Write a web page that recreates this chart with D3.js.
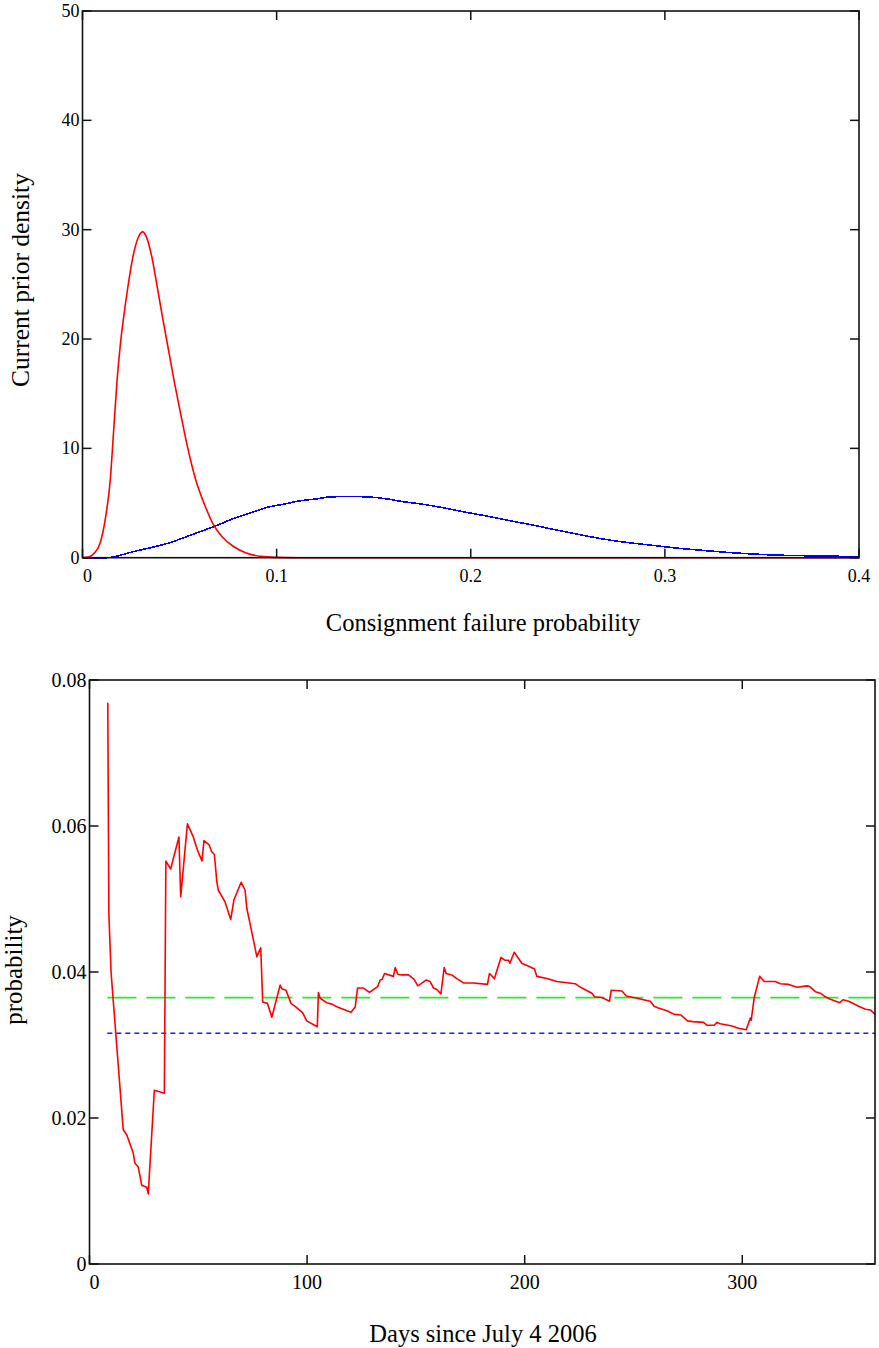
<!DOCTYPE html>
<html>
<head>
<meta charset="utf-8">
<script src="https://cdn.jsdelivr.net/npm/d3@7"></script>
<style>
  html, body { margin: 0; padding: 0; background: #fff; }
  svg { display: block; }
  text { font-family: "Liberation Serif", "Times New Roman", serif; fill: #000; }
</style>
</head>
<body>
<svg id="chart" width="879" height="1348"></svg>
<script>
// ---- Upper panel: prior densities over consignment failure probability ----
const densityX = [0, 0.1, 0.2, 0.3, 0.4];
const densityXLabels = ["0", "0.1", "0.2", "0.3", "0.4"];
const densityY = [0, 10, 20, 30, 40, 50];

// current prior (narrow, red)
const currentP = [0, 0.003, 0.006, 0.009, 0.012, 0.0143, 0.016, 0.0178, 0.0195, 0.0212, 0.023, 0.0263,
  0.029, 0.031, 0.033, 0.0355, 0.038, 0.041, 0.0444, 0.0475, 0.0504, 0.054, 0.0582, 0.063, 0.0675,
  0.072, 0.078, 0.084, 0.0918, 0.1, 0.11, 0.4];
const currentD = [0, 0.05, 0.4, 1.3, 3.8, 7.1, 11.5, 16.2, 19.5, 22.0, 24.3, 27.8,
  29.4, 29.8, 29.3, 27.7, 25.3, 22.2, 18.9, 15.9, 13.3, 10.2, 7.2, 4.8, 3.0,
  1.9, 1.0, 0.45, 0.12, 0.03, 0, 0];

// initial prior (broad, blue)
const initialP = [0, 0.0126, 0.026, 0.0436, 0.0608, 0.0685, 0.078, 0.0866, 0.0951, 0.1038, 0.1124,
  0.121, 0.127, 0.137, 0.1469, 0.1572, 0.1641, 0.1745, 0.1848, 0.1952, 0.2072, 0.2193, 0.2331,
  0.2435, 0.2538, 0.2624, 0.2728, 0.2831, 0.2952, 0.3055, 0.3193, 0.3366, 0.3573, 0.3831, 0.4];
const initialD = [0, 0, 0.55, 1.3, 2.4, 2.9, 3.6, 4.11, 4.6, 4.9, 5.21,
  5.39, 5.55, 5.6, 5.56, 5.37, 5.15, 4.91, 4.60, 4.23, 3.84, 3.41, 2.95,
  2.55, 2.19, 1.89, 1.58, 1.34, 1.10, 0.89, 0.67, 0.43, 0.24, 0.15, 0.09];

// ---- Lower panel: failure probability estimate over time ----
const dayTicks = [0, 100, 200, 300];
const probTicks = [0, 0.02, 0.04, 0.06, 0.08];
const probTickLabels = ["0", "0.02", "0.04", "0.06", "0.08"];

const days = [8.4, 8.9, 9.9, 15.5, 17.1, 20.1, 20.9, 22.4, 24, 26.3, 27, 29.8, 34.4, 35.1, 37.3,
  41.1, 41.9, 45, 47.7, 49.6, 51.7, 52.6, 55, 56.1, 57.4, 58.5, 59.2, 62.3, 64.9, 66.4, 69.7,
  71.5, 72.3, 73.8, 76.9, 78.7, 79.6, 81.8, 83.8, 87.6, 88.4, 90.3, 92.6, 94.5, 98, 99.8, 104.7,
  105.2, 106, 109, 111.4, 113.9, 117.5, 120.2, 122.1, 123.2, 125.9, 128.7, 132.4, 133.6, 134.5,
  135.6, 139.7, 140.5, 141.7, 143.5, 146.6, 149.2, 150.9, 154.7, 156.5, 158.1, 159.6, 161.5, 163,
  163.9, 166.5, 168.8, 171.9, 176.5, 182.9, 183.8, 186.1, 189.1, 191, 192.6, 193.2, 195.2, 198.7,
  201.8, 204.5, 205.6, 210.2, 213.6, 214.8, 223.2, 226.3, 230.9, 232.1, 235.5, 239, 239.8, 244.7,
  246.7, 250, 257.7, 259.5, 261.1, 265.4, 268.7, 271.8, 274.9, 277.3, 282.2, 283.8, 287.1, 288.4,
  289.9, 295.3, 298.3, 301.8, 303.7, 304.1, 305.5, 308, 310.1, 315.2, 317.5, 321.3, 325.2, 329.8,
  331, 333.6, 335.9, 338.2, 340.2, 344.8, 346.3, 348.9, 353.5, 356.6, 358.9, 361.1];
const estimate = [0.0769, 0.048, 0.040, 0.0184, 0.0177, 0.0152, 0.0138, 0.0133, 0.0108, 0.0105, 0.0096,
  0.0238, 0.0234, 0.0552, 0.0541, 0.0585, 0.0503, 0.0603, 0.0585, 0.0567, 0.0552, 0.0580, 0.0574,
  0.0565, 0.0561, 0.0524, 0.0512, 0.0496, 0.0472, 0.0499, 0.0523, 0.0512, 0.0487, 0.0466, 0.0421,
  0.0433, 0.0359, 0.0357, 0.0338, 0.0382, 0.0377, 0.0375, 0.0357, 0.0353, 0.0344, 0.0333, 0.0325,
  0.0372, 0.0364, 0.0358, 0.0356, 0.0352, 0.0348, 0.0345, 0.0352, 0.0378, 0.0378, 0.0372, 0.0380,
  0.0389, 0.0390, 0.0398, 0.0394, 0.0406, 0.0397, 0.0396, 0.0396, 0.0390, 0.0381, 0.0389, 0.0387,
  0.0378, 0.0376, 0.0370, 0.0406, 0.0398, 0.0396, 0.0391, 0.0385, 0.0385, 0.0383, 0.0398, 0.0391,
  0.0420, 0.0416, 0.0416, 0.0412, 0.0427, 0.0412, 0.0408, 0.0404, 0.0394, 0.0391, 0.0388, 0.0387,
  0.0384, 0.0378, 0.0371, 0.0366, 0.0365, 0.0360, 0.0375, 0.0374, 0.0367, 0.0365, 0.0360, 0.0353,
  0.0351, 0.0347, 0.0342, 0.0341, 0.0333, 0.0332, 0.0331, 0.0327, 0.0327, 0.0331, 0.0329, 0.0326,
  0.0323, 0.0321, 0.0337, 0.0334, 0.0365, 0.0394, 0.0387, 0.0387, 0.0384, 0.0383, 0.0379, 0.0381,
  0.0380, 0.0373, 0.0371, 0.0366, 0.0363, 0.0358, 0.0362, 0.0360, 0.0353, 0.0349, 0.0348, 0.0342];

const refLevels = [0.0365, 0.0316];   // green dashed, blue dotted
const refStartDay = 8.2;
const dayMax = 361;

const svg = d3.select("#chart");

// boxed frame with inward ticks on all four sides
function frame(g, x, y, xt, yt, xl, yl, firstDx) {
  const [x0, x1] = x.range();
  const [y0, y1] = y.range();   // y0 bottom, y1 top
  const tick = 9;
  g.append("rect").attr("x", x0).attr("y", y1).attr("width", x1 - x0).attr("height", y0 - y1)
    .attr("fill", "none").attr("stroke", "#111").attr("stroke-width", 1.6);
  xt.forEach((v, i) => {
    const px = x(v);
    g.append("line").attr("x1", px).attr("x2", px).attr("y1", y0).attr("y2", y0 - tick)
      .attr("stroke", "#111").attr("stroke-width", 1.5);
    g.append("line").attr("x1", px).attr("x2", px).attr("y1", y1).attr("y2", y1 + tick)
      .attr("stroke", "#111").attr("stroke-width", 1.5);
    g.append("text").attr("x", px + (i === 0 ? firstDx : 0)).attr("y", y0 + xl.dy)
      .attr("text-anchor", "middle").attr("font-size", xl.size).text(xl.labels[i]);
  });
  yt.forEach((v, i) => {
    const py = y(v);
    g.append("line").attr("x1", x0).attr("x2", x0 + tick).attr("y1", py).attr("y2", py)
      .attr("stroke", "#111").attr("stroke-width", 1.5);
    g.append("line").attr("x1", x1).attr("x2", x1 - tick).attr("y1", py).attr("y2", py)
      .attr("stroke", "#111").attr("stroke-width", 1.5);
    g.append("text").attr("x", x0 - 3).attr("y", py + yl.dy)
      .attr("text-anchor", "end").attr("font-size", yl.size).text(yl.labels[i]);
  });
}

// ---------- upper panel ----------
const xTop = d3.scaleLinear().domain([0, 0.4]).range([82.5, 859]);
const yTop = d3.scaleLinear().domain([0, 50]).range([557.7, 11]);
const gTop = svg.append("g");

const densityLine = d3.line().x(d => xTop(d[0])).y(d => yTop(d[1])).curve(d3.curveMonotoneX);

gTop.append("path").datum(d3.zip(initialP, initialD)).attr("d", densityLine)
  .attr("fill", "none").attr("stroke", "#0000ff").attr("stroke-width", 1.6)
  .attr("shape-rendering", "crispEdges");
gTop.append("path").datum(d3.zip(currentP, currentD)).attr("d", densityLine)
  .attr("fill", "none").attr("stroke", "#ff0000").attr("stroke-width", 1.6);

frame(gTop, xTop, yTop, densityX, densityY,
  { labels: densityXLabels, size: 18, dy: 24 }, { labels: densityY.map(String), size: 18, dy: 6 }, 5);

gTop.append("text").attr("x", 483).attr("y", 631).attr("text-anchor", "middle")
  .attr("font-size", 24.5).text("Consignment failure probability");
gTop.append("text").attr("transform", "translate(29,280) rotate(-90)").attr("text-anchor", "middle")
  .attr("font-size", 25.5).text("Current prior density");

// ---------- lower panel ----------
const xBot = d3.scaleLinear().domain([0, dayMax]).range([89.5, 875]);
const yBot = d3.scaleLinear().domain([0, 0.08]).range([1264, 680]);
const gBot = svg.append("g");

gBot.append("line").attr("x1", xBot(refStartDay)).attr("x2", xBot(dayMax))
  .attr("y1", yBot(refLevels[0])).attr("y2", yBot(refLevels[0]))
  .attr("stroke", "#22ee22").attr("stroke-width", 1.8).attr("stroke-dasharray", "29,10");
gBot.append("line").attr("x1", xBot(refStartDay)).attr("x2", xBot(dayMax))
  .attr("y1", yBot(refLevels[1])).attr("y2", yBot(refLevels[1]))
  .attr("stroke", "#1a1aff").attr("stroke-width", 1.5).attr("stroke-dasharray", "5,4");

const estLine = d3.line().x(d => xBot(d[0])).y(d => yBot(d[1]));
gBot.append("path").datum(d3.zip(days, estimate)).attr("d", estLine)
  .attr("fill", "none").attr("stroke", "#ff0000").attr("stroke-width", 1.6)
  .attr("stroke-linejoin", "round");

frame(gBot, xBot, yBot, dayTicks, probTicks,
  { labels: dayTicks.map(String), size: 20, dy: 25 }, { labels: probTickLabels, size: 20, dy: 7 }, 5);

gBot.append("text").attr("x", 483).attr("y", 1342).attr("text-anchor", "middle")
  .attr("font-size", 24.5).text("Days since July 4 2006");
gBot.append("text").attr("transform", "translate(22,970) rotate(-90)").attr("text-anchor", "middle")
  .attr("font-size", 25).text("probability");
</script>
</body>
</html>
